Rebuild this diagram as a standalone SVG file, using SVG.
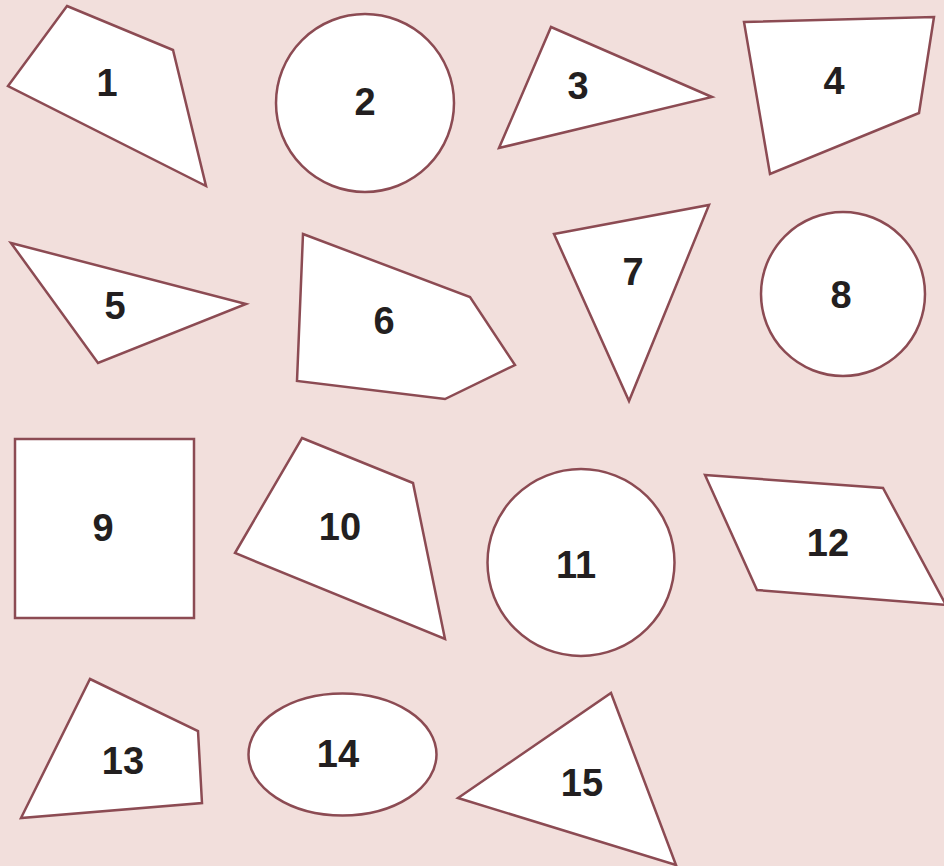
<svg xmlns="http://www.w3.org/2000/svg" width="944" height="866" viewBox="0 0 944 866">
<style>
.s{fill:#ffffff;stroke:#8c4b53;stroke-width:2.5;stroke-linejoin:miter}
.t{font-family:"Liberation Sans",Arial,sans-serif;font-weight:bold;font-size:38px;fill:#231f20;text-anchor:middle}
</style>
<rect width="944" height="866" fill="#f2dfdc"/>
<g id="n1"><polygon class="s" points="67,6 173,50 206,186 8,86"/><text class="t" x="107" y="96">1</text></g>
<g id="n2"><circle class="s" cx="365" cy="103" r="89"/><text class="t" x="365" y="115">2</text></g>
<g id="n3"><polygon class="s" points="551,27 712,97 499,148"/><text class="t" x="578" y="99">3</text></g>
<g id="n4"><polygon class="s" points="744,22 934,17 919,113 770,174"/><text class="t" x="834" y="94">4</text></g>
<g id="n5"><polygon class="s" points="11,243 246,304 98,363"/><text class="t" x="115" y="319">5</text></g>
<g id="n6"><polygon class="s" points="303,234 470,297 515,365 445,399 297,381"/><text class="t" x="384" y="334">6</text></g>
<g id="n7"><polygon class="s" points="554,234 709,205 629,401"/><text class="t" x="633" y="285">7</text></g>
<g id="n8"><circle class="s" cx="843" cy="294" r="82"/><text class="t" x="841" y="308">8</text></g>
<g id="n9"><rect class="s" x="15" y="439" width="179" height="179"/><text class="t" x="103" y="541">9</text></g>
<g id="n10"><polygon class="s" points="302,438 413,483 445,639 235,553"/><text class="t" x="340" y="540">10</text></g>
<g id="n11"><circle class="s" cx="581" cy="562.5" r="93.5"/><text class="t" x="576" y="578">11</text></g>
<g id="n12"><polygon class="s" points="705,475 883,488 946,605 757,590"/><text class="t" x="828" y="556">12</text></g>
<g id="n13"><polygon class="s" points="90,679 198,731 202,803 21,818"/><text class="t" x="123" y="774">13</text></g>
<g id="n14"><ellipse class="s" cx="342.5" cy="754.5" rx="94" ry="61"/><text class="t" x="338" y="767">14</text></g>
<g id="n15"><polygon class="s" points="611,693 676,865 458,798"/><text class="t" x="582" y="796">15</text></g>
<g id="connectors"></g>
</svg>
